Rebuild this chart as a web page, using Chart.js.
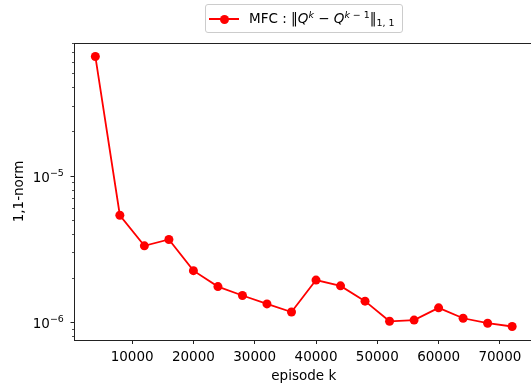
<!DOCTYPE html>
<html>
<head>
<meta charset="utf-8">
<script src="https://cdn.jsdelivr.net/npm/chart.js@4.4.1/dist/chart.umd.min.js"></script>
<style>
html,body{margin:0;padding:0;width:531px;height:388px;overflow:hidden;background:#fff;}
#wrap{position:relative;width:533px;height:388px;}
#c{position:absolute;left:0;top:0;}
#legendBox{position:absolute;left:205px;top:4px;width:198px;height:29px;box-sizing:border-box;border:1px solid #cccccc;border-radius:3px;background:rgba(255,255,255,0.8);}
#legendLine{position:absolute;left:209px;top:18.1px;width:30px;height:1.8px;background:#ff0000;}
#legendDot{position:absolute;left:219.5px;top:14.5px;width:9px;height:9px;border-radius:50%;background:#ff0000;}
#legendText{position:absolute;left:249px;top:11.9px;line-height:13.5px;font-family:"DejaVu Sans";font-size:13.5px;color:#000;white-space:nowrap;}
#legendText i{font-style:oblique;}
#legendText sup{font-size:0.7em;vertical-align:0.5em;line-height:0;}
#legendText sub{font-size:0.7em;vertical-align:-0.3em;line-height:0;}
</style>
</head>
<body>
<div id="wrap">
<canvas id="c" width="533" height="388"></canvas>
<div id="legendBox"></div>
<div id="legendLine"></div>
<div id="legendDot"></div>
<div id="legendText">MFC : ‖<i>Q</i><sup><i>k</i></sup> − <i>Q</i><sup><i>k</i> − 1</sup>‖<sub>1, 1</sub></div>
</div>
<script>
// ---- data ----
const episodes = [4000, 8000, 12000, 16000, 20000, 24000, 28000, 32000, 36000,
                  40000, 44000, 48000, 52000, 56000, 60000, 64000, 68000, 72000];
const normValues = [6.55e-5, 5.4e-6, 3.34e-6, 3.69e-6, 2.26e-6, 1.76e-6, 1.53e-6, 1.34e-6, 1.18e-6,
                    1.95e-6, 1.78e-6, 1.40e-6, 1.02e-6, 1.04e-6, 1.26e-6, 1.07e-6, 0.99e-6, 0.94e-6];
const seriesLabel = 'MFC : ‖Qᵏ − Qᵏ⁻¹‖₁,₁';
const xTickValues = [10000, 20000, 30000, 40000, 50000, 60000, 70000];
const xTickLabels = ['10000', '20000', '30000', '40000', '50000', '60000', '70000'];
const yMajorTicks = [1e-6, 1e-5];
const yTickBase = '10';
const yTickExponents = ['−6', '−5'];
const xTitle = 'episode k';
const yTitle = '1,1-norm';

// ---- axis limits ----
const xMin = 600, xMax = 75400;
const yMin = Math.pow(10, -6.119), yMax = Math.pow(10, -4.092);

// minor log ticks (2..9 x 10^n) inside the range
const yMinorTicks = [];
for (let e = -7; e <= -4; e++) {
  for (let m = 2; m <= 9; m++) {
    const v = m * Math.pow(10, e);
    if (v >= yMin && v <= yMax) yMinorTicks.push(v);
  }
}

const FONT = {family: 'DejaVu Sans', size: 13.5};
const AXIS = '#222222';

Chart.defaults.font.family = 'DejaVu Sans';
Chart.defaults.color = '#000';

// draws the "10^n" labels of the log axis, with a real superscript
const powerLabels = {
  id: 'powerLabels',
  afterDraw(chart) {
    const s = chart.scales.y;
    const ctx = chart.ctx;
    ctx.save();
    ctx.fillStyle = '#000';
    ctx.textBaseline = 'alphabetic';
    ctx.textAlign = 'left';
    const right = s.right - 4 - 6.7;
    yMajorTicks.forEach((v, i) => {
      const py = s.getPixelForValue(v);
      ctx.font = '9.45px "DejaVu Sans"';
      const wSup = ctx.measureText(yTickExponents[i]).width;
      ctx.font = '13.5px "DejaVu Sans"';
      const wBase = ctx.measureText(yTickBase).width;
      const x0 = right - wSup - wBase;
      const base = py + 5.7;
      ctx.fillText(yTickBase, x0, base);
      ctx.font = '9.45px "DejaVu Sans"';
      ctx.fillText(yTickExponents[i], x0 + wBase, base - 6);
    });
    ctx.restore();
  }
};

new Chart(document.getElementById('c'), {
  type: 'line',
  data: {
    datasets: [{
      label: seriesLabel,
      data: episodes.map((x, i) => ({x: x, y: normValues[i]})),
      borderColor: '#ff0000',
      backgroundColor: '#ff0000',
      borderWidth: 1.8,
      pointRadius: 4.5,
      pointHoverRadius: 4.5,
      pointBorderWidth: 0,
      pointBackgroundColor: '#ff0000',
      tension: 0,
      xAxisID: 'x',
      yAxisID: 'y'
    }]
  },
  options: {
    responsive: false,
    animation: false,
    devicePixelRatio: 1,
    layout: {autoPadding: false, padding: {top: 43, left: 0, right: 0, bottom: 0}},
    plugins: {legend: {display: false}, tooltip: {enabled: false}},
    scales: {
      x: {
        type: 'linear', position: 'bottom', min: xMin, max: xMax,
        afterBuildTicks: s => { s.ticks = xTickValues.map(v => ({value: v})); },
        afterFit: s => { s.height = 48; s.paddingLeft = 0; s.paddingRight = 0; },
        ticks: {autoSkip: false, maxRotation: 0, padding: 5, color: '#000', font: FONT,
                callback: (v, i) => xTickLabels[i]},
        grid: {display: true, drawOnChartArea: false, drawTicks: true, tickLength: 4, tickColor: AXIS, tickWidth: 1},
        border: {display: true, color: AXIS, width: 1},
        title: {display: true, text: xTitle, color: '#000', font: FONT, padding: {top: 0, bottom: 3}}
      },
      xTop: {
        type: 'linear', position: 'top', min: xMin, max: xMax,
        afterFit: s => { s.height = 0; s.paddingLeft = 0; s.paddingRight = 0; },
        ticks: {display: false},
        grid: {display: false},
        border: {display: true, color: AXIS, width: 1}
      },
      y: {
        type: 'logarithmic', position: 'left', weight: 1, min: yMin, max: yMax,
        afterBuildTicks: s => { s.ticks = yMajorTicks.map(v => ({value: v})); },
        afterFit: s => { s.width = 74.5; s.paddingTop = 0; s.paddingBottom = 0; },
        ticks: {padding: 5, color: '#000', font: FONT, callback: () => ''},
        grid: {display: true, drawOnChartArea: false, drawTicks: true, tickLength: 4, tickColor: AXIS, tickWidth: 1},
        border: {display: true, color: AXIS, width: 1},
        title: {display: true, text: yTitle, color: '#000', font: FONT, padding: {top: 11, bottom: 0}}
      },
      yMinor: {
        type: 'logarithmic', position: 'left', weight: 0, min: yMin, max: yMax,
        afterBuildTicks: s => { s.ticks = yMinorTicks.map(v => ({value: v})); },
        afterFit: s => { s.width = 0; s.paddingTop = 0; s.paddingBottom = 0; },
        ticks: {display: false},
        grid: {display: true, drawOnChartArea: false, drawTicks: true, tickLength: 2.5, tickColor: AXIS, tickWidth: 0.8},
        border: {display: false}
      }
    }
  },
  plugins: [powerLabels]
});
</script>
</body>
</html>
